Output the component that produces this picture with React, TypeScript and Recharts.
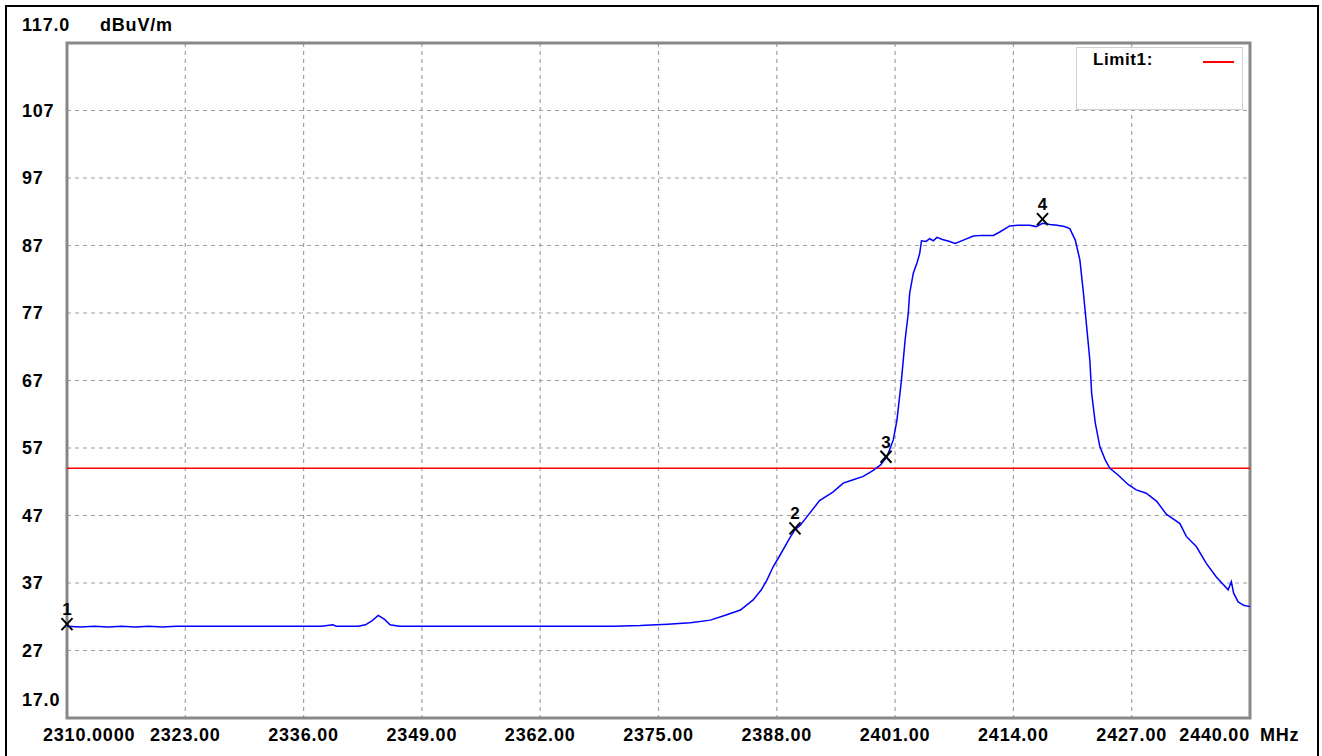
import React from 'react';
import {
  ComposedChart,
  Line,
  Scatter,
  XAxis,
  YAxis,
  CartesianGrid,
  ReferenceLine,
  ReferenceArea,
} from 'recharts';

// trace (MHz, dBuV/m)
const FREQS = [
  2310.0, 2311.5, 2313.0, 2314.5, 2316.0, 2317.5, 2319.0, 2320.5, 2322.0, 2326.0,
  2330.0, 2334.0, 2338.0, 2339.2, 2339.6, 2342.0, 2342.8, 2343.5, 2344.2, 2344.9,
  2345.5, 2346.5, 2350.0, 2355.0, 2360.0, 2365.0, 2370.0, 2373.0, 2376.0, 2378.5,
  2380.7, 2382.5, 2384.0, 2385.4, 2386.3, 2386.9, 2387.6, 2388.3, 2389.4, 2390.0,
  2390.6, 2391.3, 2392.7, 2394.2, 2395.3, 2396.4, 2397.5, 2398.6, 2399.4, 2400.1,
  2400.8, 2401.2, 2401.7, 2402.1, 2402.45, 2402.6, 2403.0, 2403.4, 2403.7, 2403.9,
  2404.4, 2404.8, 2405.2, 2405.6, 2406.2, 2407.0, 2407.6, 2408.5, 2409.6, 2410.5,
  2411.8, 2412.5, 2413.6, 2414.5, 2415.8, 2416.5, 2417.2, 2418.0, 2418.8, 2419.6,
  2420.2, 2420.8, 2421.3, 2421.7, 2422.05, 2422.4, 2422.6, 2423.0, 2423.5, 2424.1,
  2424.6, 2425.5, 2426.6, 2427.5, 2428.6, 2429.75, 2430.8, 2432.3, 2433.0, 2434.1,
  2435.2, 2436.3, 2437.6, 2437.95, 2438.2, 2438.7, 2439.3, 2440.0,
];
const LEVELS = [
  30.6, 30.5, 30.6, 30.5, 30.6, 30.5, 30.6, 30.5, 30.6, 30.6,
  30.6, 30.6, 30.6, 30.8, 30.6, 30.6, 30.8, 31.4, 32.2, 31.6,
  30.8, 30.6, 30.6, 30.6, 30.6, 30.6, 30.6, 30.7, 30.9, 31.1,
  31.5, 32.3, 33.0, 34.5, 36.0, 37.4, 39.4, 41.0, 43.6, 44.9,
  45.6, 46.8, 49.2, 50.5, 51.8, 52.3, 52.8, 53.7, 54.5, 55.7,
  58.2, 61.1, 67.1, 73.0, 77.0, 79.9, 82.9, 84.4, 85.8, 87.7,
  87.6, 88.0, 87.7, 88.2, 87.9, 87.6, 87.3, 87.8, 88.4, 88.5,
  88.5, 89.0, 89.9, 90.0, 90.0, 89.8, 90.3, 90.1, 90.0, 89.8,
  89.5, 87.8, 84.9, 79.9, 75.0, 70.0, 65.1, 60.7, 57.2, 55.2,
  54.0, 53.0, 51.6, 50.8, 50.3, 49.1, 47.2, 45.8, 43.9, 42.4,
  39.9, 37.9, 36.0, 37.2, 35.5, 34.2, 33.7, 33.5,
];

const MARKER_FREQS = [2310.0, 2390.0, 2400.0, 2417.2];
const MARKER_LEVELS = [30.9, 45.1, 55.7, 90.9];
const MARKER_LABELS = ['1', '2', '3', '4'];

const X_TICKS = [2310, 2323, 2336, 2349, 2362, 2375, 2388, 2401, 2414, 2427, 2440];
const X_LABELS = ['2310.0000', '2323.00', '2336.00', '2349.00', '2362.00', '2375.00', '2388.00', '2401.00', '2414.00', '2427.00', '2440.00'];
const Y_TICKS = [17, 27, 37, 47, 57, 67, 77, 87, 97, 107, 117];
const Y_LABELS = ['17.0', '27', '37', '47', '57', '67', '77', '87', '97', '107', '117.0'];
const LIMIT = 54;

const trace = FREQS.map((f, i) => ({ f, v: LEVELS[i] }));
const markers = MARKER_FREQS.map((f, i) => ({ f, v: MARKER_LEVELS[i], label: MARKER_LABELS[i] }));

const FONT = '"Liberation Sans", Arial, sans-serif';
const textStyle = { fontFamily: FONT, fontWeight: 700, fontSize: 18, letterSpacing: 0.8 };

const XTick = (props: any) => {
  const { x, payload, index } = props;
  const label = X_LABELS[index] ?? String(payload.value);
  let anchor: 'start' | 'middle' | 'end' = 'middle';
  let tx = x;
  if (index === 0) {
    anchor = 'start';
    tx = x - 24;
  } else if (index === X_TICKS.length - 1) {
    anchor = 'end';
    tx = x;
  }
  return (
    <g>
      <text x={tx} y={741} textAnchor={anchor} fill="#000" style={textStyle}>
        {label}
      </text>
      {index === X_TICKS.length - 1 && (
        <text x={1260} y={741} textAnchor="start" fill="#000" style={textStyle}>
          MHz
        </text>
      )}
    </g>
  );
};

const YTick = (props: any) => {
  const { y, index } = props;
  const label = Y_LABELS[index];
  const raised = index === 0 || index === Y_TICKS.length - 1;
  const ty = raised ? y - 18 : y;
  return (
    <g>
      <text x={22} y={ty + 6} textAnchor="start" fill="#000" style={textStyle}>
        {label}
      </text>
      {index === Y_TICKS.length - 1 && (
        <text x={100} y={ty + 6} textAnchor="start" fill="#000" style={textStyle}>
          dBuV/m
        </text>
      )}
    </g>
  );
};

const MarkerShape = (props: any) => {
  const { cx, cy, payload } = props;
  return (
    <g>
      <line x1={cx - 5.5} y1={cy - 6} x2={cx + 5.5} y2={cy + 6} stroke="#000" strokeWidth={2} />
      <line x1={cx + 5.5} y1={cy - 6} x2={cx - 5.5} y2={cy + 6} stroke="#000" strokeWidth={2} />
      <text x={cx} y={cy - 9} textAnchor="middle" fill="#000" style={{ ...textStyle, fontSize: 17, letterSpacing: 0 }}>
        {payload.label}
      </text>
    </g>
  );
};

export default function App() {
  return (
    <div style={{ position: 'absolute', left: 0, top: 0, width: 1322, height: 756, overflow: 'hidden', background: '#fff' }}>
      <ComposedChart width={1322} height={756} margin={{ top: 43, right: 72, bottom: 8, left: 7 }}>
        <CartesianGrid stroke="#a0a0a0" strokeDasharray="4 4" strokeWidth={1.2} />
        <XAxis
          dataKey="f"
          type="number"
          domain={[2310, 2440]}
          ticks={X_TICKS}
          interval={0}
          height={30}
          axisLine={false}
          tickLine={false}
          tick={<XTick />}
        />
        <YAxis
          type="number"
          domain={[17, 117]}
          ticks={Y_TICKS}
          interval={0}
          width={60}
          axisLine={false}
          tickLine={false}
          tick={<YTick />}
        />
        <ReferenceLine y={LIMIT} stroke="#ff0000" strokeWidth={1.6} />
        <Line
          data={trace}
          dataKey="v"
          type="linear"
          stroke="#0000ff"
          strokeWidth={1.5}
          dot={false}
          isAnimationActive={false}
        />
        <ReferenceArea x1={2310} x2={2440} y1={17} y2={117} fill="none" stroke="#888" strokeWidth={3} />
        <Scatter data={markers} dataKey="v" shape={<MarkerShape />} isAnimationActive={false} />
      </ComposedChart>
      <div
        style={{
          position: 'absolute',
          left: 1076,
          top: 47,
          width: 167,
          height: 63,
          border: '1px solid #d4d0c8',
          background: '#fff',
          boxSizing: 'border-box',
        }}
      >
        <span
          style={{
            position: 'absolute',
            left: 16,
            top: 2,
            fontFamily: FONT,
            fontWeight: 700,
            fontSize: 17,
            letterSpacing: 0.6,
            color: '#000',
          }}
        >
          Limit1:
        </span>
        <div style={{ position: 'absolute', left: 126, top: 13, width: 31, height: 2, background: '#ff0000' }} />
      </div>
      <div
        style={{
          position: 'absolute',
          left: 5,
          top: 5,
          width: 1314,
          height: 780,
          border: '2px solid #000',
          boxSizing: 'border-box',
        }}
      />
    </div>
  );
}
